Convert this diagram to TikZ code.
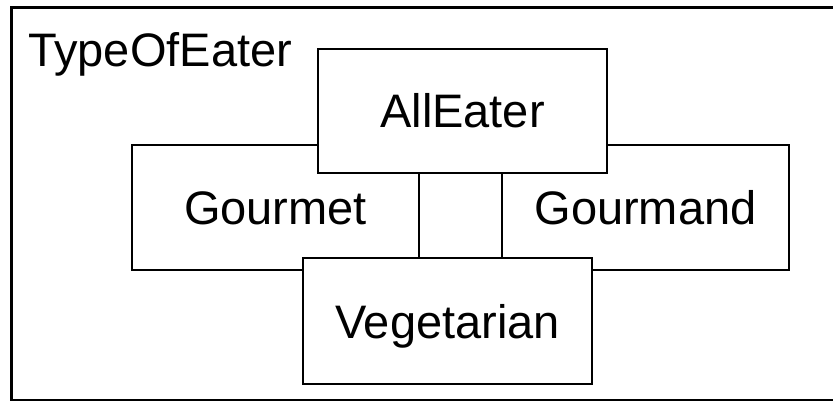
\documentclass[tikz,border=0pt]{standalone}
\usepackage{fontspec}
\setmainfont{Liberation Sans}
\begin{document}
\begin{tikzpicture}[x=1pt,y=-1pt,
  classbox/.style={draw=black,line width=2.8pt,fill=white,inner sep=0pt,
    text height=34pt,text depth=0pt,font=\fontsize{47}{51}\selectfont},
  lbl/.style={inner sep=0pt,font=\fontsize{47}{51}\selectfont}]
\useasboundingbox (0,0) rectangle (833,401);
\clip (0,0) rectangle (833,401);
\draw[line width=3pt] (11,8) rectangle (850,400);
\node[lbl,anchor=base west] (title) at (28,67) {TypeOfEater};
\node[classbox,minimum width=287pt,minimum height=125pt] (gourmet) at (275.5,207.5) {Gourmet};
\node[classbox,minimum width=287pt,minimum height=125pt] (gourmand) at (645.5,207.5) {Gourmand};
\node[classbox,minimum width=289pt,minimum height=124pt] (alleater) at (462.5,111) {AllEater};
\node[classbox,minimum width=289pt,minimum height=126pt] (vegetarian) at (447.5,321) {Vegetarian};
\end{tikzpicture}
\end{document}
